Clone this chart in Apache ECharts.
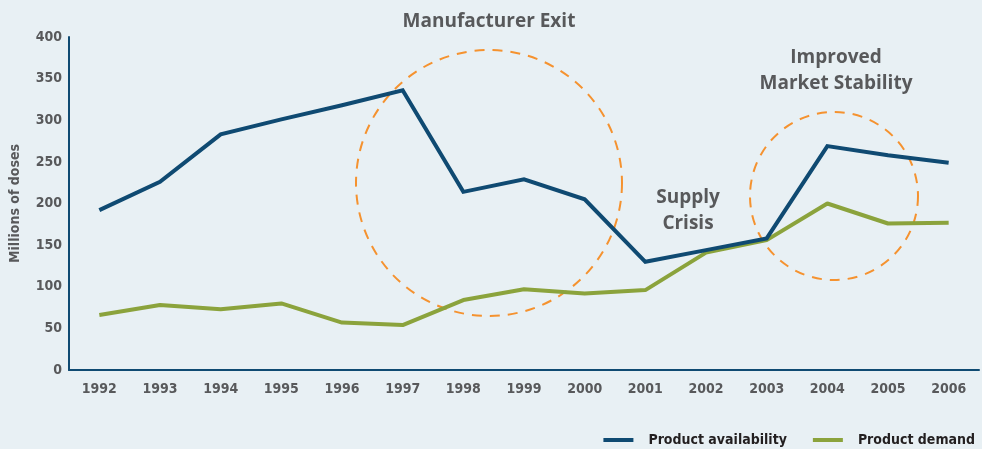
<!DOCTYPE html>
<html>
<head>
<meta charset="utf-8">
<script src="https://cdn.jsdelivr.net/npm/echarts@6/dist/echarts.min.js"></script>
<style>
  html, body { margin: 0; padding: 0; background: #e8f0f4; }
  #chart { width: 982px; height: 449px; }
</style>
</head>
<body>
<div id="chart"></div>
<script>
const years = ['1992', '1993', '1994', '1995', '1996', '1997', '1998', '1999', '2000', '2001', '2002', '2003', '2004', '2005', '2006'];
const availability = [192, 226, 283, 301, 318, 336, 214, 229, 205, 130, 144, 158, 269, 258, 249];
const demand = [66, 78, 73, 80, 57, 54, 84, 97, 92, 96, 141, 156, 200, 176, 177];

const navy = '#0f4a72';
const green = '#8ba33c';
const orange = '#f5922f';
const grey = '#58595b';
const condensed = '"Liberation Sans Narrow", "DejaVu Sans Condensed", sans-serif';
const heading = '"Open Sans", sans-serif';

const chart = echarts.init(document.getElementById('chart'));

const option = {
    backgroundColor: '#e8f0f4',
    animation: false,
    grid: { left: 69, right: 3, top: 37, bottom: 79 },
    legend: {
        right: 2,
        bottom: -3,
        itemWidth: 30,
        itemHeight: 4,
        itemGap: 26,
        icon: 'rect',
        textStyle: { fontFamily: condensed, fontWeight: 'bold', fontSize: 14, color: '#231f20', padding: [0, 0, 0, 10] },
        data: ['Product availability', 'Product demand']
    },
    xAxis: {
        type: 'category',
        data: years,
        boundaryGap: true,
        axisLine: { lineStyle: { color: navy, width: 2 } },
        axisTick: { show: false },
        axisLabel: { margin: 12, fontFamily: condensed, fontWeight: 'bold', fontSize: 14, color: grey }
    },
    yAxis: {
        type: 'value',
        min: 0,
        max: 400,
        interval: 50,
        name: 'Millions of doses',
        nameLocation: 'middle',
        nameGap: 47,
        nameTextStyle: { fontFamily: condensed, fontWeight: 'bold', fontSize: 14, color: grey },
        axisLine: { show: true, lineStyle: { color: navy, width: 2 } },
        axisTick: { show: false },
        splitLine: { show: false },
        axisLabel: { margin: 7, fontFamily: condensed, fontWeight: 'bold', fontSize: 14, color: grey }
    },
    series: [
        {
            name: 'Product availability',
            type: 'line',
            data: availability,
            symbol: 'none',
            itemStyle: { color: navy },
            lineStyle: { color: navy, width: 4, join: 'miter' },
            z: 3
        },
        {
            name: 'Product demand',
            type: 'line',
            data: demand,
            symbol: 'none',
            itemStyle: { color: green },
            lineStyle: { color: green, width: 4 },
            z: 2
        }
    ],
    graphic: [
        {
            type: 'circle',
            shape: { cx: 489, cy: 183, r: 133 },
            style: { fill: 'none', stroke: orange, lineWidth: 2, lineDash: [10, 8] },
            z: 1
        },
        {
            type: 'circle',
            shape: { cx: 834, cy: 196, r: 84 },
            style: { fill: 'none', stroke: orange, lineWidth: 2, lineDash: [10, 8] },
            z: 1
        },
        {
            type: 'text',
            x: 489, y: 22,
            style: { text: 'Manufacturer Exit', fill: grey, font: 'bold 19px ' + heading, align: 'center', verticalAlign: 'middle' }
        },
        {
            type: 'text',
            x: 688, y: 211,
            style: { text: 'Supply\nCrisis', fill: grey, font: 'bold 19px ' + heading, align: 'center', verticalAlign: 'middle', lineHeight: 26 }
        },
        {
            type: 'text',
            x: 836, y: 71,
            style: { text: 'Improved\nMarket Stability', fill: grey, font: 'bold 19px ' + heading, align: 'center', verticalAlign: 'middle', lineHeight: 26 }
        }
    ]
};

chart.setOption(option);
</script>
</body>
</html>
